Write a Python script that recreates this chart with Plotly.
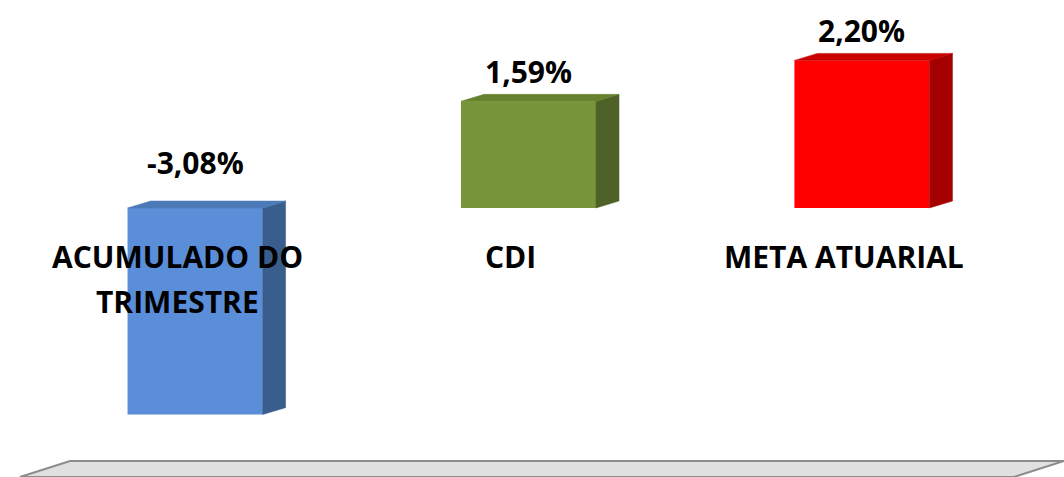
import plotly.graph_objects as go

categories = ["ACUMULADO DO<br>TRIMESTRE", "CDI", "META ATUARIAL"]
values = [-3.08, 1.59, 2.20]
value_labels = ["-3,08%", "1,59%", "2,20%"]
front_colors = ["#5B8ED8", "#78953B", "#FF0000"]
side_colors = ["#395E8E", "#4E6228", "#A50000"]
top_colors = ["#4C7AB8", "#67822F", "#C80000"]

bar_w = 0.405
dx = 0.069
dy = 0.104
xpos = list(range(len(categories)))

fig = go.Figure()

for i, v in enumerate(values):
    x = xpos[i]
    hi, lo = max(v, 0), min(v, 0)
    xr = x + bar_w / 2
    xl = x - bar_w / 2
    # side face
    fig.add_trace(go.Scatter(
        x=[xr, xr, xr + dx, xr + dx, xr],
        y=[lo, hi, hi + dy, lo + dy, lo],
        fill="toself", fillcolor=side_colors[i], mode="lines",
        line=dict(width=0.5, color=side_colors[i]), hoverinfo="skip", showlegend=False))
    # top face
    fig.add_trace(go.Scatter(
        x=[xl, xr, xr + dx, xl + dx, xl],
        y=[hi, hi, hi + dy, hi + dy, hi],
        fill="toself", fillcolor=top_colors[i], mode="lines",
        line=dict(width=0.5, color=top_colors[i]), hoverinfo="skip", showlegend=False))

fig.add_trace(go.Bar(
    x=xpos, y=values, width=bar_w, marker=dict(color=front_colors, line=dict(width=0)),
    showlegend=False, hoverinfo="skip"))

font = dict(family="Open Sans", size=30, color="#000000")
for i, v in enumerate(values):
    fig.add_annotation(x=xpos[i], y=max(v, 0), text="<b>" + value_labels[i] + "</b>",
                       showarrow=False, yshift=45 if v < 0 else 30, font=font)
    for j, line in enumerate(categories[i].split("<br>")):
        fig.add_annotation(x=xpos[i], y=0, text="<b>" + line + "</b>",
                           showarrow=False, xshift=-18, yshift=-49 - 45 * j, font=font)

# floor
fig.add_shape(type="path", xref="paper", yref="paper",
              path="M 0.0188 0 L 0.0658 0.0335 L 1.0 0.0335 L 0.953 0 Z",
              fillcolor="#E0E0E0", line=dict(color="#8C8C8C", width=2), layer="below")

fig.update_layout(
    width=1064, height=477, margin=dict(l=0, r=0, t=0, b=0),
    paper_bgcolor="white", plot_bgcolor="white", barmode="overlay",
    xaxis=dict(range=[-0.585, 2.606], visible=False, showgrid=False, zeroline=False),
    yaxis=dict(range=[-4.01, 3.10], visible=False, showgrid=False, zeroline=False),
)

fig.write_html("out.html")
